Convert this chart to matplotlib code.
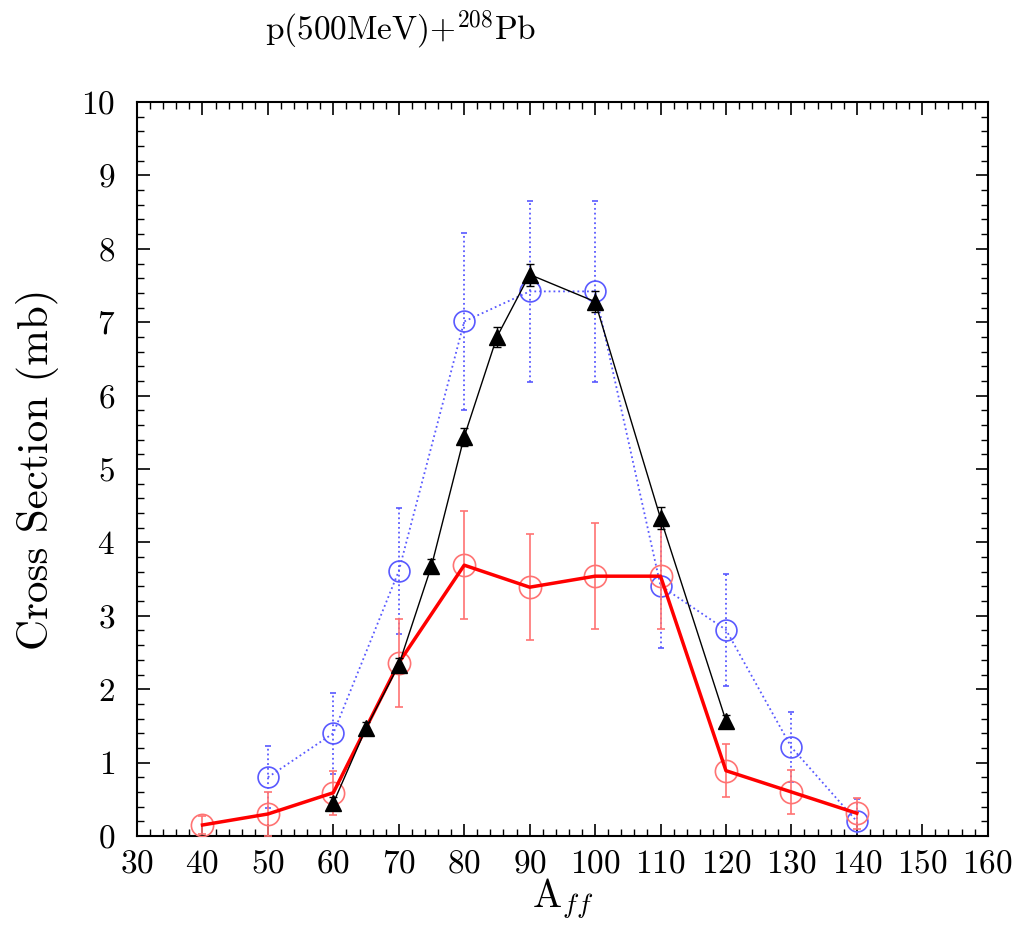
import matplotlib
matplotlib.use("Agg")
import matplotlib.pyplot as plt
from matplotlib.ticker import MultipleLocator

plt.rcParams['font.family'] = 'serif'
plt.rcParams['font.serif'] = ['cmr10']
plt.rcParams['mathtext.fontset'] = 'cm'
plt.rcParams['axes.formatter.use_mathtext'] = True

# Red series (open circles, solid line)
red_x = [40, 50, 60, 70, 80, 90, 100, 110, 120, 130, 140]
red_y = [0.15, 0.30, 0.59, 2.36, 3.69, 3.39, 3.54, 3.54, 0.89, 0.60, 0.31]
red_err = [0.12, 0.30, 0.30, 0.60, 0.74, 0.72, 0.72, 0.72, 0.36, 0.30, 0.21]

# Blue series (open circles, dotted line)
blue_x = [50, 60, 70, 80, 90, 100, 110, 120, 130, 140]
blue_y = [0.80, 1.40, 3.61, 7.01, 7.42, 7.42, 3.41, 2.81, 1.21, 0.20]
blue_err = [0.42, 0.55, 0.86, 1.21, 1.23, 1.23, 0.85, 0.76, 0.48, 0.30]

# Black series (filled triangles, solid thin line)
blk_x = [60, 65, 70, 75, 80, 85, 90, 100, 110, 120]
blk_y = [0.45, 1.47, 2.33, 3.68, 5.44, 6.80, 7.65, 7.28, 4.33, 1.57]
blk_err = [0.08, 0.08, 0.10, 0.10, 0.12, 0.14, 0.15, 0.14, 0.15, 0.08]

x_ticks = list(range(30, 161, 10))
y_ticks = list(range(0, 11, 1))

fig = plt.figure(figsize=(10.28, 9.25), dpi=100)
ax = fig.add_axes([0.1333, 0.0962, 0.8275, 0.7935])

blue_c = (0.35, 0.35, 1.0)
eb = ax.errorbar(blue_x, blue_y, yerr=blue_err, color=blue_c, ls=':', lw=1.3,
                 marker='o', ms=15, mfc='none', mec=blue_c, mew=1.2,
                 ecolor=blue_c, elinewidth=1.3, capsize=2, zorder=2)
for bar in eb[2]:
    bar.set_linestyle(':')

red_light = (1.0, 0.45, 0.45)
ax.errorbar(red_x, red_y, yerr=red_err, color=red_light, ls='none', lw=1.2,
            marker='o', ms=16, mfc='none', mec=red_light, mew=1.2,
            ecolor=red_light, elinewidth=1.2, capsize=3, zorder=3)
ax.plot(red_x, red_y, color='red', lw=2.5, zorder=4)

ax.errorbar(blk_x, blk_y, yerr=blk_err, color='black', ls='-', lw=1.0,
            marker='^', ms=12, mfc='black', mec='black',
            ecolor='black', elinewidth=1.0, capsize=3, zorder=5)

ax.set_xlim(30, 160)
ax.set_ylim(0, 10)
ax.set_xticks(x_ticks)
ax.set_yticks(y_ticks)
ax.xaxis.set_minor_locator(MultipleLocator(2))
ax.yaxis.set_minor_locator(MultipleLocator(0.2))
ax.tick_params(which='both', direction='in', top=True, right=True, labelsize=24)
ax.tick_params(which='major', length=9, width=1.2)
ax.tick_params(which='minor', length=5, width=1.0)
ax.tick_params(axis='x', which='major', pad=10)
ax.tick_params(axis='y', which='major', pad=16)
for s in ax.spines.values():
    s.set_linewidth(1.5)

ax.set_xlabel(r'A$_{ff}$', fontsize=28, labelpad=-2)
ax.set_ylabel('Cross Section (mb)', fontsize=31, labelpad=16)
fig.text(0.39, 0.968, r'p(500MeV)+$^{208}$Pb', fontsize=24, ha='center', va='center')

fig.savefig('out.png', dpi=100)
